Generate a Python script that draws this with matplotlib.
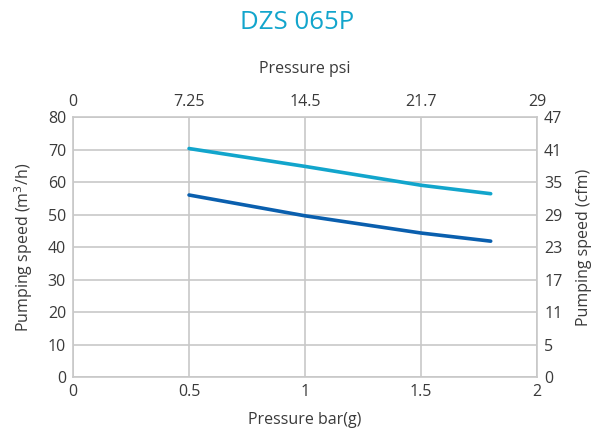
import numpy as np
import matplotlib.pyplot as plt

plt.rcParams['font.family'] = ['Open Sans', 'DejaVu Sans']

# Data
pressure_bar = [0.5, 1.0, 1.5, 1.8]
speed_upper = [70.3, 64.8, 59.0, 56.4]   # m3/h, light blue curve
speed_lower = [56.0, 49.6, 44.3, 41.8]   # m3/h, dark blue curve

bar_ticks = [0, 0.5, 1, 1.5, 2]
psi_labels = ['0', '7.25', '14.5', '21.7', '29']
m3h_ticks = [0, 10, 20, 30, 40, 50, 60, 70, 80]
cfm_labels = ['0', '5', '11', '17', '23', '29', '35', '41', '47']

text_col = '#3a3a3a'
grid_col = '#c8c8c8'

fig = plt.figure(figsize=(5.95, 4.34), dpi=100)
ax = fig.add_axes([0.1227, 0.1313, 0.78, 0.5991])

ax.plot(pressure_bar, speed_upper, color='#12a5cc', lw=2.6, solid_capstyle='round')
ax.plot(pressure_bar, speed_lower, color='#0a5fae', lw=2.6, solid_capstyle='round')

ax.set_xlim(0, 2)
ax.set_ylim(0, 80)
ax.set_xticks(bar_ticks)
ax.set_xticklabels(['0', '0.5', '1', '1.5', '2'])
ax.set_yticks(m3h_ticks)
ax.grid(True, color=grid_col, lw=1.2)
for s in ax.spines.values():
    s.set_color(grid_col)
    s.set_linewidth(1.2)
ax.tick_params(length=0, labelsize=11.5, colors=text_col, pad=5)
ax.set_xlabel('Pressure bar(g)', fontsize=11.5, color=text_col, labelpad=9)
ax.set_ylabel('Pumping speed (m$^3$/h)', fontsize=11.5, color=text_col, labelpad=9)

# top axis: psi
axt = ax.twiny()
axt.set_xlim(0, 2)
axt.set_xticks(bar_ticks)
axt.set_xticklabels(psi_labels)
axt.tick_params(length=0, labelsize=11.5, colors=text_col, pad=5)
axt.set_xlabel('Pressure psi', fontsize=11.5, color=text_col, labelpad=15)

# right axis: cfm
axr = ax.twinx()
axr.set_ylim(0, 80)
axr.set_yticks(m3h_ticks)
axr.set_yticklabels(cfm_labels)
axr.tick_params(length=0, labelsize=11.5, colors=text_col, pad=5)
axr.set_ylabel('Pumping speed (cfm)', fontsize=11.5, color=text_col, labelpad=10)

for a in (axt, axr):
    for s in a.spines.values():
        s.set_visible(False)

fig.text(0.5, 0.948, 'DZS 065P', ha='center', va='center', fontsize=18.5, color='#12a5cc')

fig.savefig('out.png', dpi=100)
